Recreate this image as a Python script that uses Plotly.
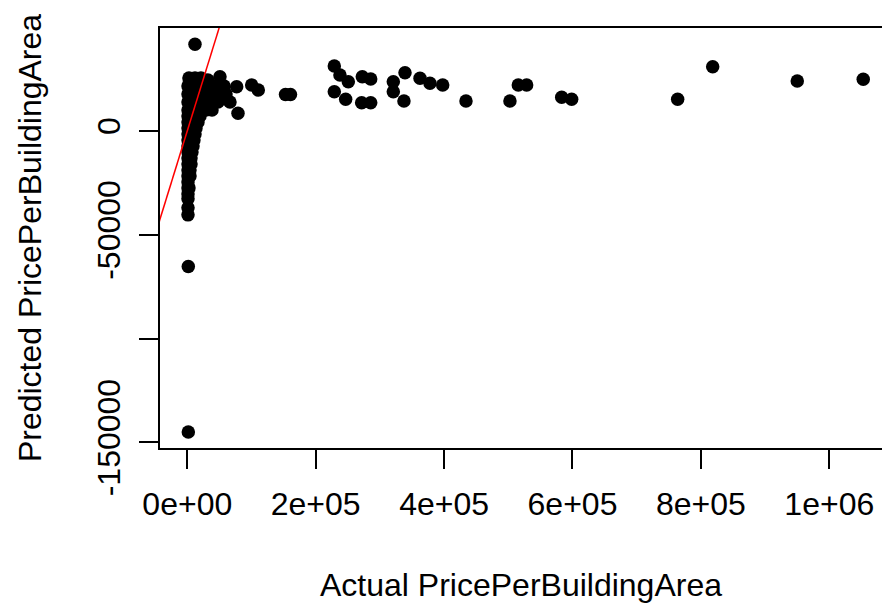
import plotly.graph_objects as go

# Actual vs predicted price per building area (model fit check)
actual = [
    # dense cluster of low-priced properties
    2600, 12000, 21300, 32000,
    1100, 10400, 19800, 29100, 38500, 47800, 57200,
    1100, 10400, 19800, 29100, 38500, 47800, 60300,
    1100, 10400, 19800, 29100, 38500, 47800, 66500,
    1100, 10400, 19800, 29100, 38500,
    1100, 10400, 19800,
    1100, 8900, 16700,
    1100, 13600,
    1100, 12000,
    1100, 10400,
    1100, 8900,
    1100, 7300,
    1100, 5800,
    1100, 5800,
    1100, 4200,
    1100, 4200,
    1100,
    1100, 2600,
    1100,
    1100,
    1100,
    1100,
    12000, 1600, 1600,
    # higher-priced properties
    50900, 76900, 79000, 100300, 110600, 153000, 160700,
    229000, 237800, 250800, 272600, 285700, 229000, 246700, 271600, 285700,
    339100, 320900, 320900, 337500, 362500, 378000, 397800, 434100,
    502600, 515600, 528600, 583200, 598700,
    763800, 818400, 950100, 1052900,
]
predicted = [
    25500, 25500, 25500, 24500,
    21650, 21650, 21650, 21650, 21650, 21650, 21650,
    17800, 17800, 17800, 17800, 17800, 17800, 17800,
    13950, 13950, 13950, 13950, 13950, 13950, 13950,
    10100, 10100, 10100, 10100, 10100,
    7220, 7220, 7220,
    4330, 4330, 4330,
    1440, 1440,
    -1440, -1440,
    -4330, -4330,
    -7220, -7220,
    -10100, -10100,
    -12990, -12990,
    -15880, -15880,
    -18770, -18770,
    -21650, -21650,
    -24540,
    -27430, -27430,
    -30320,
    -32720,
    -37050,
    -40420,
    41720, -65300, -145000,
    26130, 21320, 8520, 22140, 19730, 17560, 17560,
    31280, 26950, 23720, 26130, 25020, 18910, 15250, 13620, 13620,
    28050, 23720, 18910, 14440, 25360, 22950, 22140, 14440,
    14440, 22140, 22140, 16220, 15250,
    15250, 30900, 24060, 24880,
]

x_ticks = [0, 200000, 400000, 600000, 800000, 1000000]
x_tick_text = ["0e+00", "2e+05", "4e+05", "6e+05", "8e+05", "1e+06"]
y_ticks = [0, -50000, -100000, -150000]
y_tick_text = ["0", "-50000", "", "-150000"]

# identity line y = x
ref_line = [-60000, 80000]

FONT = "Liberation Sans, Arial, sans-serif"
FS = 32

fig = go.Figure()
fig.add_trace(go.Scatter(
    x=actual, y=predicted, mode="markers",
    marker=dict(color="black", size=13.5, line=dict(width=0)),
    showlegend=False, hoverinfo="x+y",
))
fig.add_trace(go.Scatter(
    x=ref_line, y=ref_line, mode="lines",
    line=dict(color="red", width=1.5),
    showlegend=False, hoverinfo="skip",
))

axis_common = dict(
    showgrid=False, zeroline=False,
    showline=True, linecolor="black", linewidth=1.8,
    ticks="outside", ticklen=19, tickwidth=1.8, tickcolor="black",
    tickfont=dict(family=FONT, size=FS, color="black"),
)

fig.update_xaxes(
    range=[-42500, 1082100],
    tickvals=x_ticks, ticktext=x_tick_text,
    mirror=True,
    ticklabelstandoff=8,
    title=dict(text="Actual PricePerBuildingArea",
               font=dict(family=FONT, size=FS, color="black"), standoff=52),
    **axis_common,
)
fig.update_yaxes(
    range=[-152700, 49570],
    tickvals=y_ticks, ticktext=y_tick_text,
    tickangle=-90,
    ticklabelstandoff=6,
    title=dict(text="Predicted PricePerBuildingArea",
               font=dict(family=FONT, size=FS, color="black"), standoff=40),
    **axis_common,
)

fig.update_layout(
    width=882, height=608,
    margin=dict(l=160, r=0, t=28, b=160, autoexpand=False),
    plot_bgcolor="white", paper_bgcolor="white",
    font=dict(family=FONT, color="black"),
)

fig.write_html("out.html")
